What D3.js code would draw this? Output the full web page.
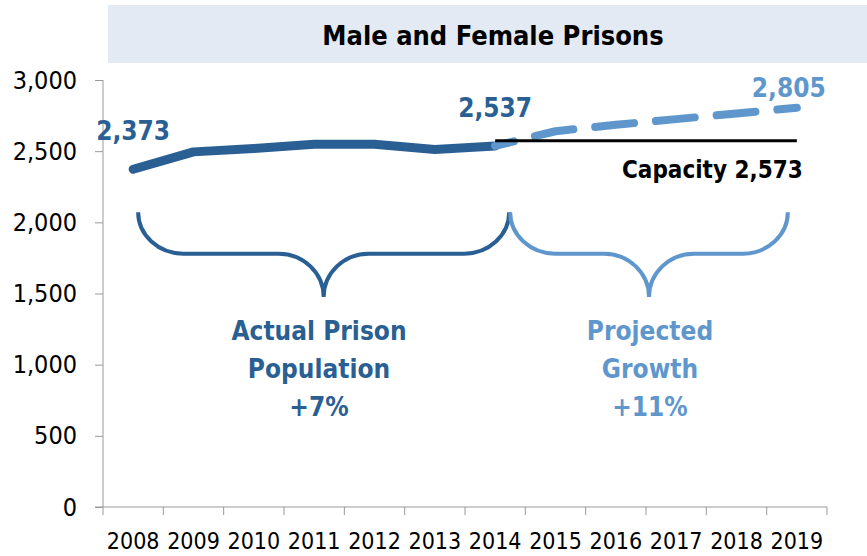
<html>
<script src="https://d3js.org/d3.v7.min.js"></script>
<style>
  body { margin: 0; background: #fff; }
  text { font-family: 'Liberation Sans Narrow', 'DejaVu Sans Condensed', sans-serif; }
</style>
<body>
<svg width="867" height="556"></svg>
<script>
// data
const years = ["2008","2009","2010","2011","2012","2013","2014","2015","2016","2017","2018","2019"];
const actualYears = ["2008","2009","2010","2011","2012","2013","2014"];
const actualValues = [2373, 2495, 2518, 2548, 2548, 2511, 2537];
const projYears = ["2014","2015","2016","2017","2018","2019"];
const projValues = [2537, 2640, 2685, 2725, 2765, 2805];
const capacity = 2573;
const yTicks = [0, 500, 1000, 1500, 2000, 2500, 3000];
const title = "Male and Female Prisons";

const dark = "#2a5f93", light = "#5f97cd";

const svg = d3.select("svg");
const plotLeft = 103, plotRight = 827, plotTop = 80, plotBottom = 507;

const xs = d3.scaleBand().domain(years).range([plotLeft, plotRight]);
const ys = d3.scaleLinear().domain([0, 3000]).range([plotBottom, plotTop]);
const cx = d => xs(d) + xs.bandwidth() / 2;

// title band
svg.append("rect").attr("x", 108).attr("y", 5).attr("width", 759).attr("height", 58).attr("fill", "#e3eaf4");
svg.append("text").attr("x", 493).attr("y", 45).attr("text-anchor", "middle")
  .style("font-size", "27px").style("font-weight", "bold").text(title);

// y axis
const yAxis = svg.append("g").attr("transform", "translate(" + plotLeft + ",0)")
  .call(d3.axisLeft(ys).tickValues(yTicks).tickSize(8).tickPadding(18).tickFormat(d3.format(",")));
yAxis.select(".domain").attr("stroke", "#999").attr("d", "M0," + plotBottom + "V" + plotTop);
yAxis.selectAll(".tick line").attr("stroke", "#999");
yAxis.selectAll("text").style("font-size", "25px").attr("fill", "#000");
yAxis.attr("font-family", null);

// x axis: ticks on category boundaries, labels at centres
const xg = svg.append("g");
xg.append("line").attr("x1", plotLeft - 8).attr("x2", plotRight).attr("y1", plotBottom).attr("y2", plotBottom).attr("stroke", "#999");
xg.selectAll(".bt").data(years.concat(["end"])).enter().append("line")
  .attr("x1", (d, i) => plotLeft + i * xs.bandwidth()).attr("x2", (d, i) => plotLeft + i * xs.bandwidth())
  .attr("y1", plotBottom).attr("y2", plotBottom + 8).attr("stroke", "#999");
xg.selectAll(".yl").data(years).enter().append("text")
  .attr("x", d => cx(d)).attr("y", 549).attr("text-anchor", "middle")
  .style("font-size", "23px").text(d => d);

// lines
const line = d3.line().x(d => cx(d[0])).y(d => ys(d[1]));
svg.append("path").datum(actualYears.map((d, i) => [d, actualValues[i]]))
  .attr("d", line).attr("fill", "none").attr("stroke", dark).attr("stroke-width", 9)
  .attr("stroke-linecap", "round").attr("stroke-linejoin", "round");
svg.append("path").datum(projYears.map((d, i) => [d, projValues[i]]))
  .attr("d", line).attr("fill", "none").attr("stroke", light).attr("stroke-width", 8)
  .attr("stroke-linecap", "round").attr("stroke-linejoin", "round")
  .attr("stroke-dasharray", "39,22").attr("stroke-dashoffset", 20);

// capacity line
svg.append("line").attr("x1", cx("2014")).attr("x2", cx("2019"))
  .attr("y1", ys(capacity)).attr("y2", ys(capacity)).attr("stroke", "#000").attr("stroke-width", 3);
svg.append("text").attr("x", cx("2019") + 6).attr("y", ys(capacity) + 37).attr("text-anchor", "end")
  .style("font-size", "24px").style("font-weight", "bold").text("Capacity " + d3.format(",")(capacity));

// value labels
const lbl = (yr, v, color, dy) => svg.append("text").attr("x", cx(yr)).attr("y", ys(v) + dy)
  .attr("text-anchor", "middle").attr("fill", color)
  .style("font-size", "26px").style("font-weight", "bold").text(d3.format(",")(v));
lbl("2008", actualValues[0], dark, -29);
lbl("2014", actualValues[6], dark, -29);
lbl("2019", projValues[5], light, -11).attr("x", cx("2019") - 8);

// braces
function brace(x0, x1, yTop, yMid, yTip, color) {
  const xm = (x0 + x1) / 2, r = 45;
  const p = d3.path();
  p.moveTo(x0, yTop);
  p.bezierCurveTo(x0, yTop + (yMid - yTop) * 0.55, x0 + r * 0.45, yMid, x0 + r, yMid);
  p.lineTo(xm - r, yMid);
  p.bezierCurveTo(xm - r * 0.45, yMid, xm, yMid + (yTip - yMid) * 0.45, xm, yTip);
  p.bezierCurveTo(xm, yMid + (yTip - yMid) * 0.45, xm + r * 0.45, yMid, xm + r, yMid);
  p.lineTo(x1 - r, yMid);
  p.bezierCurveTo(x1 - r * 0.45, yMid, x1, yTop + (yMid - yTop) * 0.55, x1, yTop);
  svg.append("path").attr("d", p.toString()).attr("fill", "none")
    .attr("stroke", color).attr("stroke-width", 4);
}
brace(cx("2008") + 5, cx("2014") + 14, ys(2070), ys(1780), ys(1475), dark);
brace(cx("2014") + 15, cx("2019") - 9, ys(2070), ys(1780), ys(1475), light);

// brace captions
function caption(x, lines, color) {
  const t = svg.append("text").attr("x", x).attr("y", 340).attr("text-anchor", "middle")
    .attr("fill", color).style("font-size", "26px").style("font-weight", "bold");
  lines.forEach((s, i) => t.append("tspan").attr("x", x).attr("dy", i ? 38 : 0).text(s));
}
caption(319, ["Actual Prison", "Population", "+7%"], dark);
caption(650, ["Projected", "Growth", "+11%"], light);
</script>
</body>
</html>
